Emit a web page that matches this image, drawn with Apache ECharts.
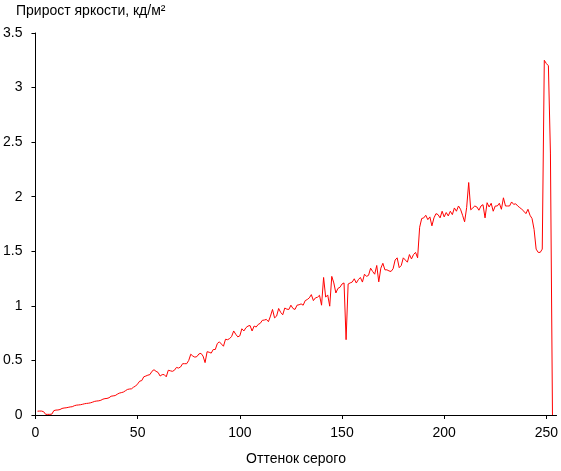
<!DOCTYPE html>
<html>
<head>
<meta charset="utf-8">
<script src="https://cdn.jsdelivr.net/npm/echarts@6/dist/echarts.min.js"></script>
<style>
html,body{margin:0;padding:0;background:#fff;}
#chart{width:561px;height:471px;}
</style>
</head>
<body>
<div id="chart"></div>
<script>
// Data
const titleText = 'Прирост яркости, кд/м²';
const xAxisName = 'Оттенок серого';
const xTicks = [0, 50, 100, 150, 200, 250];
const yTicks = [0, 0.5, 1, 1.5, 2, 2.5, 3, 3.5];
const firstGray = 1;
// brightness increment for gray levels 1..253
const brightnessGain = [
  0.035, 0.036, 0.036, 0.03, 0.006, 0.006, 0.006, 0.008, 0.04, 0.045,   // 1-10
  0.046, 0.05, 0.06, 0.064, 0.066, 0.07, 0.074, 0.076, 0.085, 0.09,     // 11-20
  0.092, 0.094, 0.098, 0.103, 0.106, 0.108, 0.112, 0.118, 0.125, 0.128, // 21-30
  0.13, 0.135, 0.145, 0.15, 0.152, 0.158, 0.172, 0.175, 0.178, 0.19,    // 31-40
  0.2, 0.205, 0.21, 0.222, 0.234, 0.238, 0.24, 0.255, 0.265, 0.285,     // 41-50
  0.31, 0.315, 0.35, 0.357, 0.365, 0.37, 0.4, 0.415, 0.4, 0.39,         // 51-60
  0.357, 0.37, 0.37, 0.35, 0.41, 0.405, 0.4, 0.41, 0.436, 0.43,         // 61-70
  0.44, 0.47, 0.47, 0.47, 0.5, 0.557, 0.54, 0.53, 0.535, 0.56,          // 71-80
  0.565, 0.54, 0.48, 0.58, 0.575, 0.567, 0.6, 0.6, 0.655, 0.67,         // 81-90
  0.65, 0.63, 0.694, 0.69, 0.7, 0.72, 0.77, 0.74, 0.716, 0.725,         // 91-100
  0.79, 0.77, 0.8, 0.815, 0.82, 0.77, 0.815, 0.806, 0.83, 0.84,         // 101-110
  0.867, 0.87, 0.876, 0.855, 0.906, 0.967, 0.89, 0.906, 0.976, 0.94,    // 111-120
  0.918, 0.98, 0.97, 0.967, 1.006, 0.976, 0.967, 1.006, 1.01, 1.018,    // 121-130
  1.006, 1.048, 1.058, 1.073, 1.103, 1.048, 1.073, 1.079, 1.097, 1.006, // 131-140
  1.26, 1.08, 1.1, 0.997, 1.27, 1.21, 1.118, 1.16, 1.17, 1.2,           // 141-150
  1.21, 0.69, 1.2, 1.21, 1.218, 1.248, 1.209, 1.24, 1.26, 1.218,        // 151-160
  1.29, 1.27, 1.28, 1.345, 1.315, 1.29, 1.37, 1.22, 1.345, 1.39,        // 161-170
  1.33, 1.33, 1.32, 1.315, 1.34, 1.42, 1.44, 1.35, 1.37, 1.44,          // 171-180
  1.42, 1.4, 1.47, 1.43, 1.47, 1.49, 1.44, 1.72, 1.8, 1.806,            // 181-190
  1.83, 1.79, 1.815, 1.733, 1.806, 1.845, 1.836, 1.806, 1.867, 1.815,   // 191-200
  1.855, 1.824, 1.867, 1.836, 1.897, 1.867, 1.915, 1.885, 1.83, 1.77,   // 201-210
  1.9, 2.13, 1.88, 1.897, 1.915, 1.906, 1.876, 1.915, 1.927, 1.806,     // 211-220
  1.945, 1.906, 1.94, 1.867, 1.915, 1.915, 1.94, 1.885, 1.99, 1.915,    // 221-230
  1.915, 1.915, 1.952, 1.93, 1.935, 1.915, 1.9, 1.885, 1.867, 1.845,    // 231-240
  1.885, 1.83, 1.8, 1.7, 1.52, 1.49, 1.49, 1.52, 3.25, 3.22,            // 241-250
  3.2, 2.4, 0                                                            // 251-253
];

const seriesData = brightnessGain.map((v, i) => [firstGray + i, v]);

const chart = echarts.init(document.getElementById('chart'), null, {renderer: 'canvas'});
const fontFamily = '"Liberation Sans", Arial, sans-serif';
chart.setOption({
  animation: false,
  backgroundColor: '#ffffff',
  title: {
    text: titleText,
    left: 11,
    top: -1,
    textStyle: {fontFamily, fontSize: 14, fontWeight: 'normal', color: '#000'}
  },
  grid: {left: 34, right: 3, top: 33, bottom: 53, containLabel: false},
  xAxis: {
    type: 'value',
    min: 0,
    max: 255,
    interval: 50,
    name: xAxisName,
    nameLocation: 'middle',
    nameGap: 37,
    nameTextStyle: {fontFamily, fontSize: 14, color: '#000'},
    axisLine: {show: true, lineStyle: {color: '#000', width: 1}},
    axisTick: {show: true, length: 4, customValues: xTicks, lineStyle: {color: '#000'}},
    axisLabel: {customValues: xTicks, margin: 11, fontFamily, fontSize: 14, color: '#000'},
    splitLine: {show: false}
  },
  yAxis: {
    type: 'value',
    min: 0,
    max: 3.5,
    interval: 0.5,
    axisLine: {show: true, lineStyle: {color: '#000', width: 1}},
    axisTick: {show: true, length: 4, customValues: yTicks, lineStyle: {color: '#000'}},
    axisLabel: {customValues: yTicks, margin: 13, fontFamily, fontSize: 14, color: '#000'},
    splitLine: {show: false}
  },
  series: [{
    type: 'line',
    data: seriesData,
    showSymbol: false,
    symbol: 'none',
    lineStyle: {color: '#ff0000', width: 1},
    itemStyle: {color: '#ff0000'}
  }]
});
</script>
</body>
</html>
